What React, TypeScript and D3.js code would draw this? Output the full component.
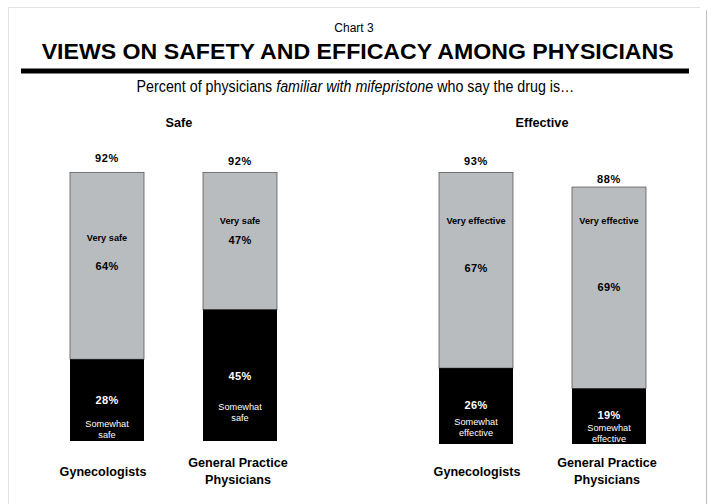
import React from "react";
import * as d3 from "d3";

const panels = ["Safe", "Effective"];
const categories = ["Gynecologists", "General Practice Physicians"];
const veryLabels = ["Very safe", "Very effective"];
const somewhatLabels = [["Somewhat", "safe"], ["Somewhat", "effective"]];
// [panel][category]
const veryValues = [[64, 47], [67, 69]];
const somewhatValues = [[28, 45], [26, 19]];
const totalValues = [[92, 92], [93, 88]];

// label layout offsets (px) per panel/category
const layout = [
  [
    { total: -10, very: 69, veryPct: 97.6, swPct: 45, sw1: 67.3, sw2: 78.3, catDx: -4 },
    { total: -7, very: 52, veryPct: 71.6, swPct: 70, sw1: 100.5, sw2: 111.5, catDx: -2 },
  ],
  [
    { total: -7, very: 51.6, veryPct: 99.6, swPct: 41.4, sw1: 57, sw2: 68.4, catDx: 1 },
    { total: -4, very: 37, veryPct: 103.5, swPct: 30.5, sw1: 42, sw2: 53.5, catDx: -2 },
  ],
];

const W = 712;
const H = 504;
const FONT = "'Liberation Sans', Arial, sans-serif";
const GRAY = "#b8bcbe";
const panelRanges: [number, number][] = [[70, 277], [439, 646]];
const panelBases = [441, 444];
const panelTitleX = [179, 542];
const PX_PER_PCT = 2.92;

export default function App() {
  return (
    <svg width={W} height={H} style={{ position: "absolute", left: 0, top: 0, background: "#fff" }} fontFamily={FONT}>
      <rect x={0} y={0} width={W} height={H} fill="#fff" />
      <path d={`M8.5,${H} V7.5 H700`} fill="none" stroke="#e2e2e2" strokeWidth={1} />
      <line x1={706.5} y1={10} x2={706.5} y2={H} stroke="#c4c4c4" strokeWidth={1.2} />
      <text x={354} y={32} textAnchor="middle" fontSize={12} fill="#000">Chart 3</text>
      <text x={41.7} y={59} fontSize={22} fontWeight="bold" fill="#000" textLength={632} lengthAdjust="spacingAndGlyphs">
        VIEWS ON SAFETY AND EFFICACY AMONG PHYSICIANS
      </text>
      <rect x={21} y={68.5} width={668} height={5} fill="#000" />
      <g transform="translate(355.5,92) scale(0.84,1)">
        <text x={0} y={0} textAnchor="middle" fontSize={17} fill="#000">
          Percent of physicians <tspan fontStyle="italic">familiar with mifepristone</tspan> who say the drug is…
        </text>
      </g>
      {panels.map((p, pi) => {
        const x = d3.scaleBand<string>().domain(categories).range(panelRanges[pi]).paddingInner(0.4436).paddingOuter(0);
        const base = panelBases[pi];
        const y = d3.scaleLinear().domain([0, 100]).range([base, base - 100 * PX_PER_PCT]);
        return (
          <g key={p}>
            <text x={panelTitleX[pi]} y={127} textAnchor="middle" fontSize={12.7} fontWeight="bold">{p}</text>
            {categories.map((c, ci) => {
              const x0 = x(c)!;
              const bw = x.bandwidth();
              const cx = x0 + bw / 2;
              const sw = somewhatValues[pi][ci];
              const vv = veryValues[pi][ci];
              const tot = totalValues[pi][ci];
              const swTop = y(sw);
              const grayTop = y(sw + vv);
              const L = layout[pi][ci];
              const lx = cx + L.catDx;
              const words = c.split(" ");
              const lines = words.length > 2 ? [words.slice(0, 2).join(" "), words.slice(2).join(" ")] : [c];
              return (
                <g key={c}>
                  <rect x={x0} y={grayTop} width={bw} height={swTop - grayTop} fill={GRAY} stroke="#5a5a5a" strokeWidth={0.8} />
                  <rect x={x0} y={swTop} width={bw} height={base - swTop} fill="#000" />
                  <text x={cx} y={grayTop + L.total} textAnchor="middle" fontSize={11} fontWeight="bold" letterSpacing={0.6}>{tot}%</text>
                  <text x={cx} y={grayTop + L.very} textAnchor="middle" fontSize={9.2} fontWeight="bold">{veryLabels[pi]}</text>
                  <text x={cx} y={grayTop + L.veryPct} textAnchor="middle" fontSize={11} fontWeight="bold" letterSpacing={0.4}>{vv}%</text>
                  <text x={cx} y={swTop + L.swPct} textAnchor="middle" fontSize={11} fontWeight="bold" fill="#fff" letterSpacing={0.4}>{sw}%</text>
                  <text x={cx} y={swTop + L.sw1} textAnchor="middle" fontSize={9.2} fill="#fff">{somewhatLabels[pi][0]}</text>
                  <text x={cx} y={swTop + L.sw2} textAnchor="middle" fontSize={9.2} fill="#fff">{somewhatLabels[pi][1]}</text>
                  {lines.length === 1 ? (
                    <text x={lx} y={476} textAnchor="middle" fontSize={12.6} fontWeight="bold">{lines[0]}</text>
                  ) : (
                    <text x={lx} textAnchor="middle" fontSize={12.6} fontWeight="bold">
                      <tspan x={lx} y={467.3}>{lines[0]}</tspan>
                      <tspan x={lx} y={484.3}>{lines[1]}</tspan>
                    </text>
                  )}
                </g>
              );
            })}
          </g>
        );
      })}
    </svg>
  );
}
